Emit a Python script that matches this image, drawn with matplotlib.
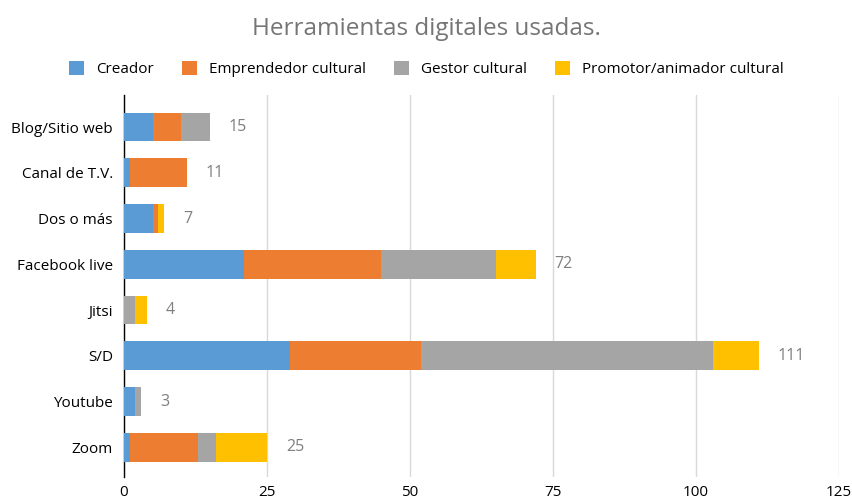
import matplotlib.pyplot as plt
import numpy as np

plt.rcParams['font.family'] = ['Open Sans', 'DejaVu Sans']

categories = ['Blog/Sitio web', 'Canal de T.V.', 'Dos o más', 'Facebook live',
              'Jitsi', 'S/D', 'Youtube', 'Zoom']
creador = [5, 1, 5, 21, 0, 29, 2, 1]
emprendedor = [5, 10, 1, 24, 0, 23, 0, 12]
gestor = [5, 0, 0, 20, 2, 51, 1, 3]
promotor = [0, 0, 1, 7, 2, 8, 0, 9]

series = [
    ('Creador', creador, '#5b9bd5'),
    ('Emprendedor cultural', emprendedor, '#ed7d31'),
    ('Gestor cultural', gestor, '#a5a5a5'),
    ('Promotor/animador cultural', promotor, '#ffc000'),
]

fig = plt.figure(figsize=(8.53, 5.01), dpi=100)
ax = fig.add_axes([124 / 853, 24 / 501, 715 / 853, 382 / 501])

y = np.arange(len(categories))
left = np.zeros(len(categories))
for name, vals, color in series:
    ax.barh(y, vals, left=left, height=0.63, color=color, label=name, zorder=3)
    left += np.array(vals)

for yi, total in zip(y, left):
    ax.text(total + 3.3, yi, f'{int(total)}', va='center', ha='left',
            fontsize=11.5, color='#7f7f7f')

ax.set_xlim(0, 125)
ax.set_xticks([0, 25, 50, 75, 100, 125])
ax.set_ylim(len(categories) - 0.35, -0.7)
ax.set_yticks(y)
ax.set_yticklabels(categories)
ax.tick_params(axis='both', length=0, labelsize=11, colors='#000000')
ax.tick_params(axis='y', pad=8)
ax.tick_params(axis='x', pad=6)
ax.grid(axis='x', color='#d9d9d9', linewidth=1, zorder=0)
for s in ['top', 'right', 'bottom']:
    ax.spines[s].set_visible(False)
ax.spines['left'].set_color('#000000')
ax.spines['left'].set_linewidth(1)

fig.text(0.5, 0.943, 'Herramientas digitales usadas.', ha='center', va='center',
         fontsize=17.5, color='#757575')
fig.legend(loc='center', bbox_to_anchor=(0.5, 0.862), ncol=4, frameon=False,
           fontsize=11, handlelength=1.0, handleheight=1.0, columnspacing=1.8,
           handletextpad=0.8)

fig.savefig('out.png', dpi=100)
